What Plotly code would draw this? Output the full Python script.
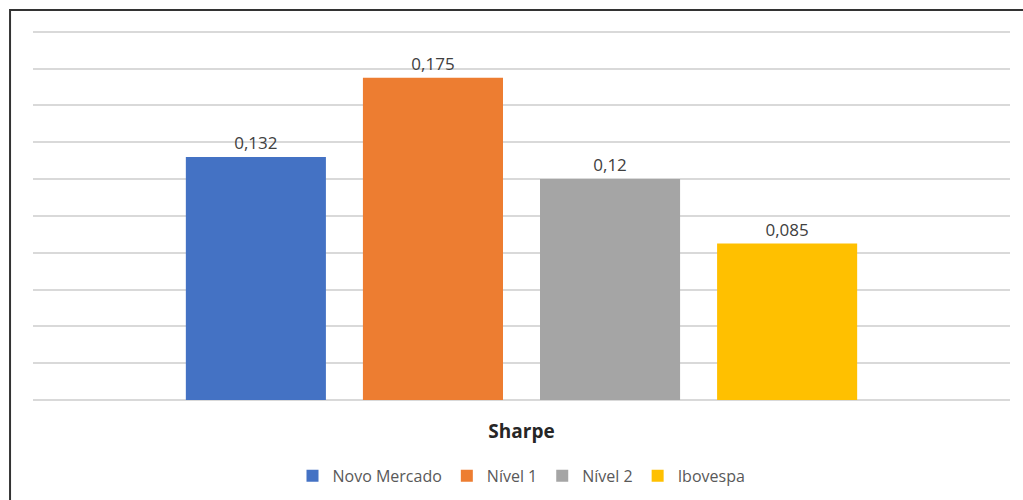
import plotly.graph_objects as go

category = ["Sharpe"]
series_names = ["Novo Mercado", "Nível 1", "Nível 2", "Ibovespa"]
series_values = [0.132, 0.175, 0.12, 0.085]
series_colors = ["#4472C4", "#ED7D31", "#A5A5A5", "#FFC000"]

fig = go.Figure()
for name, val, col in zip(series_names, series_values, series_colors):
    fig.add_trace(go.Bar(
        name=name, x=category, y=[val],
        marker=dict(color=col, line=dict(width=0)),
        texttemplate="%{y:.3~f}", textposition="outside",
        textfont=dict(size=17, color="#404040", family="Open Sans"),
        cliponaxis=False,
    ))

fig.update_layout(
    width=1023, height=500,
    margin=dict(l=33, r=13, t=30, b=100, autoexpand=False),
    paper_bgcolor="white", plot_bgcolor="white",
    barmode="group", bargap=0.275, bargroupgap=0.209,
    separators=",.",
    font=dict(family="Open Sans", color="#595959"),
    showlegend=True,
    legend=dict(orientation="h", x=0.5, xanchor="center", y=-0.205, yanchor="middle",
                font=dict(size=16, color="#595959"), itemwidth=30, traceorder="normal"),
    yaxis=dict(range=[0, 0.201], dtick=0.02, showticklabels=False, gridcolor="#D9D9D9",
               gridwidth=1.5, zeroline=True, zerolinecolor="#D9D9D9", zerolinewidth=1.5,
               showline=False, ticks=""),
    xaxis=dict(showline=False, ticks="", ticklabelstandoff=18,
               tickfont=dict(size=19, color="#262626", weight="bold")),
    shapes=[dict(type="rect", xref="paper", yref="paper",
                 x0=-0.0235, x1=1.03, y0=-0.3, y1=1.0541,
                 line=dict(color="#333333", width=2), layer="above")],
)

fig.write_html("out.html")
